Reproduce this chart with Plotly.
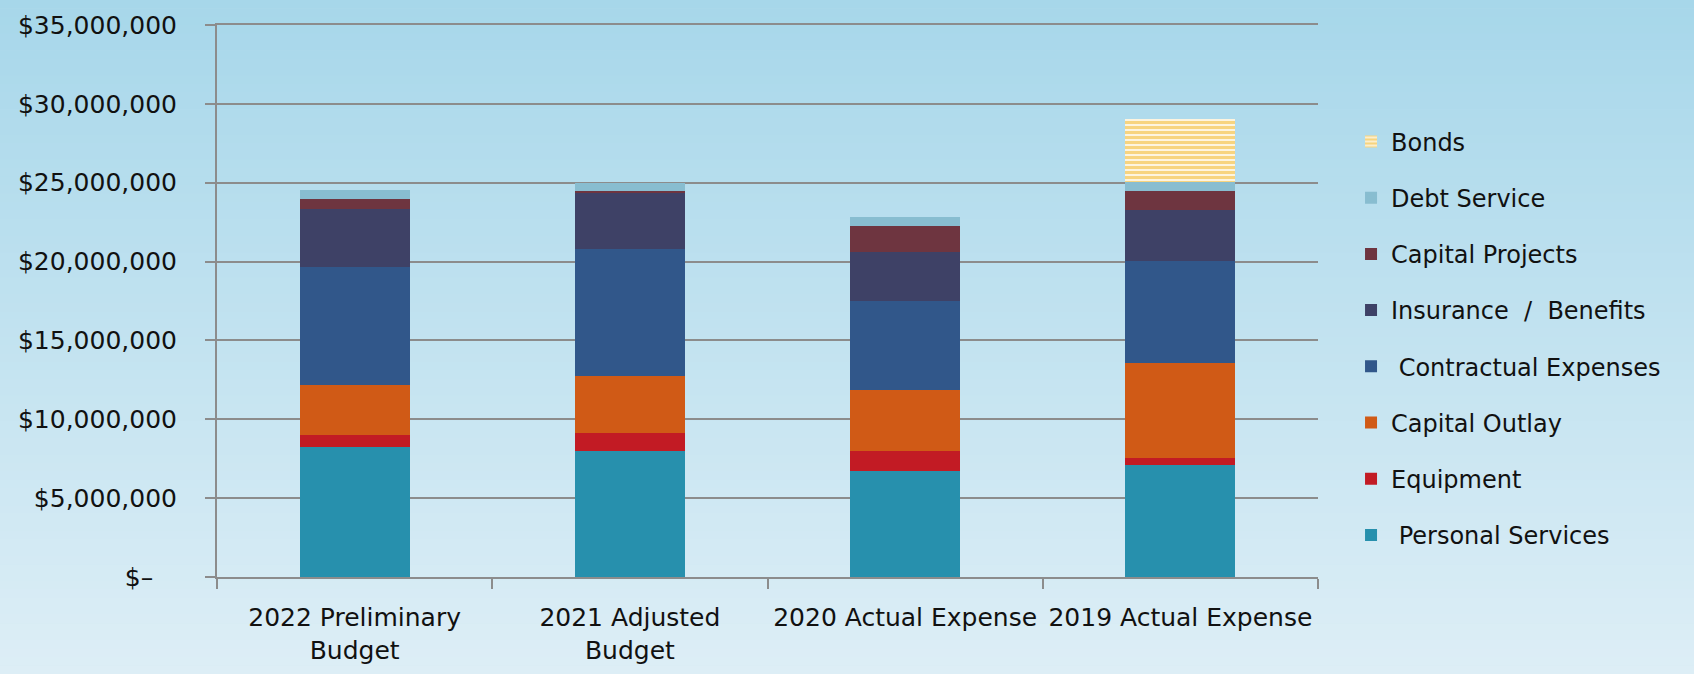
import plotly.graph_objects as go

categories = ["2022 Preliminary<br>Budget", "2021 Adjusted<br>Budget",
              "2020 Actual Expense", "2019 Actual Expense"]

personal_services = [8240000, 8020000, 6740000, 7120000]
equipment = [735000, 1120000, 1270000, 400000]
capital_outlay = [3190000, 3610000, 3850000, 6050000]
contractual = [7500000, 8050000, 5640000, 6460000]
insurance = [3690000, 3530000, 3110000, 3230000]
capital_projects = [630000, 150000, 1650000, 1220000]
debt_service = [550000, 530000, 545000, 590000]
bonds = [0, 0, 0, 3970000]

series = [
    ("\u00a0Personal Services", personal_services, "#2790AD"),
    ("Equipment", equipment, "#C21B24"),
    ("Capital Outlay", capital_outlay, "#D05A16"),
    ("\u00a0Contractual Expenses", contractual, "#31578A"),
    ("Insurance \u00a0/\u00a0 Benefits", insurance, "#3E4166"),
    ("Capital Projects", capital_projects, "#6E3540"),
    ("Debt Service", debt_service, "#88BDD0"),
]

y_tickvals = [0, 5e6, 10e6, 15e6, 20e6, 25e6, 30e6, 35e6]
y_ticktext = ["$\u2013\u00a0\u00a0\u00a0", "$5,000,000", "$10,000,000", "$15,000,000",
              "$20,000,000", "$25,000,000", "$30,000,000", "$35,000,000"]

fig = go.Figure()
for i, (name, vals, color) in enumerate(series):
    fig.add_trace(go.Bar(x=categories, y=vals, name=name, marker_color=color,
                         marker_line_width=0, legendgroup=str(i), legendrank=8 - i))
fig.add_trace(go.Bar(x=categories, y=bonds, name="Bonds", legendgroup="b", legendrank=0,
                     marker=dict(color="white", line_width=0,
                                 pattern=dict(shape="-", fgcolor="#F0AA00", bgcolor="white",
                                              size=5, solidity=0.7))))

# gradient background strips
n = 80
top = (167, 215, 234)
bot = (221, 238, 246)
shapes = []
for k in range(n):
    t = k / (n - 1)
    c = tuple(int(round(top[j] + (bot[j] - top[j]) * t)) for j in range(3))
    shapes.append(dict(type="rect", xref="paper", yref="paper",
                       x0=-0.3, x1=1.4, y0=1 + 25 / 552 - (k + 1) * (674 / 552) / n - 0.0005,
                       y1=1 + 25 / 552 - k * (674 / 552) / n + 0.0005,
                       fillcolor="rgb(%d,%d,%d)" % c, line_width=0, layer="below"))

fig.update_layout(
    width=1694, height=674,
    barmode="stack", bargap=0.6,
    margin=dict(l=217, r=376, t=25, b=97, autoexpand=False),
    paper_bgcolor="rgb(194,227,240)", plot_bgcolor="rgba(0,0,0,0)",
    font=dict(family="DejaVu Sans", color="#111111"),
    shapes=shapes,
    showlegend=True,
    legend=dict(x=1.030, xanchor="left", y=0.829, yanchor="top",
                traceorder="grouped", tracegroupgap=22,
                font=dict(size=24), bgcolor="rgba(0,0,0,0)"),
)
fig.update_xaxes(showline=True, mirror=True, linecolor="#8C8C8C", linewidth=2,
                 ticks="outside", tickson="boundaries", ticklen=10, tickcolor="#8C8C8C",
                 tickwidth=2, tickangle=0, tickfont=dict(size=25), ticklabelstandoff=17,
                 automargin=False)
fig.update_yaxes(range=[0, 35e6], tickvals=y_tickvals, ticktext=y_ticktext,
                 showgrid=True, gridcolor="#8C8C8C", gridwidth=2,
                 showline=True, linecolor="#8C8C8C", linewidth=2,
                 ticks="outside", ticklen=10, tickcolor="#8C8C8C", tickwidth=2,
                 tickfont=dict(size=25), ticklabelstandoff=23, zeroline=False,
                 automargin=False)

fig.write_html("out.html", config={"displayModeBar": False},
               post_script="document.body.style.margin='0';")
